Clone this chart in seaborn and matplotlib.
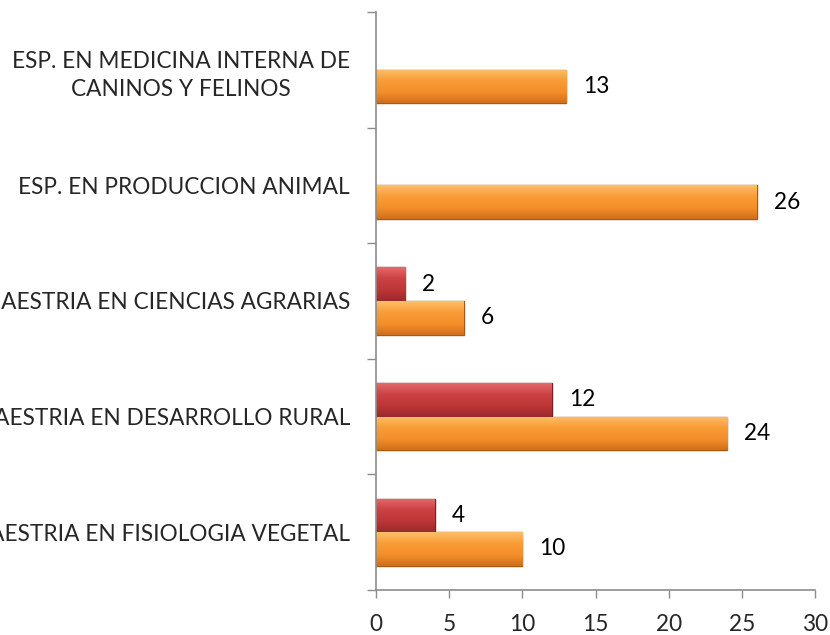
import matplotlib
matplotlib.use("Agg")
import matplotlib.pyplot as plt
import seaborn as sns
import pandas as pd
import numpy as np
from matplotlib.colors import LinearSegmentedColormap

categories = [
    "ESP. EN MEDICINA INTERNA DE\nCANINOS Y FELINOS",
    "ESP. EN PRODUCCION ANIMAL",
    "MAESTRIA EN CIENCIAS AGRARIAS",
    "MAESTRIA EN DESARROLLO RURAL",
    "MAESTRIA EN FISIOLOGIA VEGETAL",
]
series_names = ["Serie 1", "Serie 2"]
red_values = [np.nan, np.nan, 2, 12, 4]
orange_values = [13, 26, 6, 24, 10]
x_ticks = [0, 5, 10, 15, 20, 25, 30]

sns.set_theme(style="white")
plt.rcParams['font.family'] = ['Lato', 'DejaVu Sans']

df = pd.DataFrame({
    "cat": categories * 2,
    "serie": [series_names[0]] * len(categories) + [series_names[1]] * len(categories),
    "val": red_values + orange_values,
})

colors = {"Serie 1": "#C0393B", "Serie 2": "#F7912C"}
edges = {"Serie 1": "#7A2020", "Serie 2": "#A65A14"}
cmaps = {
    "Serie 1": LinearSegmentedColormap.from_list("r", ["#E46A6C", "#CC4144", "#BE3638", "#9A2A2C"]),
    "Serie 2": LinearSegmentedColormap.from_list("o", ["#FDC068", "#F99C37", "#F58F2A", "#CF6F1A"]),
}

fig = plt.figure(figsize=(8.3, 6.35), dpi=100)
ax = fig.add_axes([0.453, 0.071, 0.529, 0.910])

# choose font size so that label widths match the reference
renderer = fig.canvas.get_renderer()
total = 0.0
for s in ["ESP. EN PRODUCCION ANIMAL", "MAESTRIA EN FISIOLOGIA VEGETAL", "ESP. EN MEDICINA INTERNA DE"]:
    probe = fig.text(0, 0, s, fontsize=10)
    total += probe.get_window_extent(renderer).width
    probe.remove()
fs = 10 * 1038.0 / total

sns.barplot(data=df, y="cat", x="val", hue="serie", order=categories,
            hue_order=series_names, palette=colors, orient="h", width=0.58,
            legend=False, ax=ax, saturation=1)

for container, name in zip(ax.containers, series_names):
    for patch in container.patches:
        w = patch.get_width()
        if not np.isfinite(w) or w <= 0:
            continue
        x0, y0, h = patch.get_x(), patch.get_y(), patch.get_height()
        patch.set_edgecolor(edges[name])
        patch.set_linewidth(1.0)
        grad = np.linspace(0, 1, 100).reshape(-1, 1)
        im = ax.imshow(grad, cmap=cmaps[name], aspect="auto",
                       extent=(x0, x0 + w, y0 + h, y0), zorder=patch.get_zorder() + 0.1,
                       interpolation="bicubic")
        im.set_clip_path(patch)
        ax.annotate(f"{int(round(w))}", xy=(x0 + w, y0 + h / 2), xytext=(17, 0),
                    textcoords="offset pixels", va="center", ha="left",
                    fontsize=fs, color="#000000")

ax.set_xlim(0, 30)
ax.set_ylim(len(categories) - 0.5, -0.5)
ax.set_xticks(x_ticks)
ax.set_xticklabels([str(t) for t in x_ticks], fontsize=fs)
ax.set_xlabel("")
ax.set_ylabel("")
ax.set_yticks(range(len(categories)))
ax.set_yticklabels(categories, fontsize=fs, ha="right", multialignment="center",
                   linespacing=1.4)
ax.set_yticks(np.arange(-0.5, len(categories), 1), minor=True)
ax.tick_params(axis="y", which="major", length=0, pad=26 * 72 / 100)
ax.tick_params(axis="y", which="minor", length=6.5, width=1, color="#8C8C8C", left=True)
ax.tick_params(axis="x", which="major", length=6, width=1, color="#8C8C8C", pad=11, bottom=True)

for s in ["top", "right"]:
    ax.spines[s].set_visible(False)
for s in ["left", "bottom"]:
    ax.spines[s].set_color("#8C8C8C")
    ax.spines[s].set_linewidth(1.2)

fig.savefig("out.png", dpi=100)
